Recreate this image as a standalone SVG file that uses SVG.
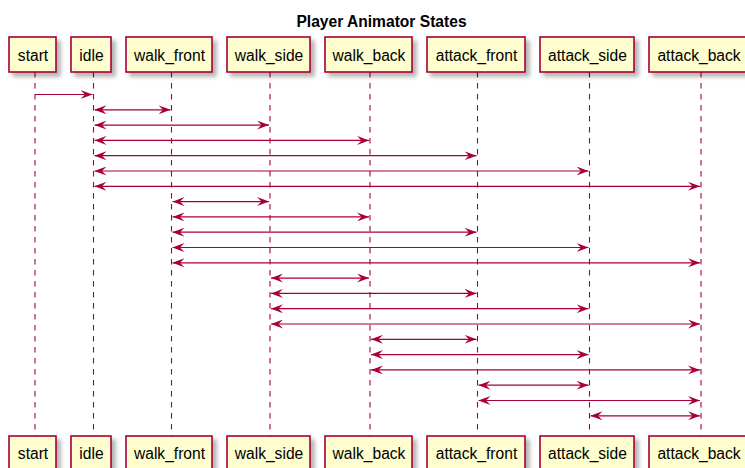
<svg xmlns="http://www.w3.org/2000/svg" width="745" height="468" viewBox="0 0 745 468">
<defs>
<filter id="sh" x="-20%" y="-20%" width="150%" height="160%">
<feGaussianBlur in="SourceAlpha" stdDeviation="2"/>
<feOffset dx="4" dy="4" result="b"/>
<feComponentTransfer><feFuncA type="linear" slope="0.3"/></feComponentTransfer>
<feMerge><feMergeNode/><feMergeNode in="SourceGraphic"/></feMerge>
</filter>
<marker id="ah" viewBox="0 0 12 9" refX="12" refY="4.5" markerWidth="12" markerHeight="9" markerUnits="userSpaceOnUse" orient="auto-start-reverse">
<polygon points="0,0 12,4.5 0,9 4.5,4.5" fill="#A80036"/>
</marker>
</defs>
<style>
.box{fill:#FEFECE;stroke:#A80036;stroke-width:1.6;filter:url(#sh)}
.lbl{font-family:"Liberation Sans",Arial,sans-serif;font-size:15.6px;fill:#000;text-anchor:middle}
.life{stroke:#A80036;stroke-width:1.1;stroke-dasharray:5.5,5.5;fill:none}
.msg{stroke:#A80036;stroke-width:1.2;fill:none}
.one{marker-end:url(#ah)}
.two{marker-start:url(#ah);marker-end:url(#ah)}
.title{font-family:"Liberation Sans",Arial,sans-serif;font-size:15.6px;font-weight:bold;text-anchor:middle;fill:#000}
</style>
<rect width="745" height="468" fill="#FFFFFF"/>
<text class="title" x="381.5" y="26.5">Player Animator States</text>
<g id="lifelines">
<line class="life" x1="35" y1="72" x2="35" y2="436"/>
<line class="life" x1="93.5" y1="72" x2="93.5" y2="436"/>
<line class="life" x1="171.5" y1="72" x2="171.5" y2="436"/>
<line class="life" x1="270" y1="72" x2="270" y2="436"/>
<line class="life" x1="370" y1="72" x2="370" y2="436"/>
<line class="life" x1="477.5" y1="72" x2="477.5" y2="436"/>
<line class="life" x1="589.5" y1="72" x2="589.5" y2="436"/>
<line class="life" x1="701" y1="72" x2="701" y2="436"/>
</g>
<g id="start">
<rect class="box" x="9" y="37" width="47" height="35"/><text class="lbl" x="33" y="61">start</text>
<rect class="box" x="9" y="436" width="47" height="35"/><text class="lbl" x="33" y="459">start</text>
</g>
<g id="idle">
<rect class="box" x="71" y="37" width="40" height="35"/><text class="lbl" x="91.5" y="61">idle</text>
<rect class="box" x="71" y="436" width="40" height="35"/><text class="lbl" x="91.5" y="459">idle</text>
</g>
<g id="walk_front">
<rect class="box" x="126" y="37" width="86" height="35"/><text class="lbl" x="169.5" y="61">walk_front</text>
<rect class="box" x="126" y="436" width="86" height="35"/><text class="lbl" x="169.5" y="459">walk_front</text>
</g>
<g id="walk_side">
<rect class="box" x="227" y="37" width="83" height="35"/><text class="lbl" x="269" y="61">walk_side</text>
<rect class="box" x="227" y="436" width="83" height="35"/><text class="lbl" x="269" y="459">walk_side</text>
</g>
<g id="walk_back">
<rect class="box" x="325" y="37" width="87" height="35"/><text class="lbl" x="369" y="61">walk_back</text>
<rect class="box" x="325" y="436" width="87" height="35"/><text class="lbl" x="369" y="459">walk_back</text>
</g>
<g id="attack_front">
<rect class="box" x="427" y="37" width="98" height="35"/><text class="lbl" x="476.5" y="61">attack_front</text>
<rect class="box" x="427" y="436" width="98" height="35"/><text class="lbl" x="476.5" y="459">attack_front</text>
</g>
<g id="attack_side">
<rect class="box" x="540" y="37" width="94" height="35"/><text class="lbl" x="587.5" y="61">attack_side</text>
<rect class="box" x="540" y="436" width="94" height="35"/><text class="lbl" x="587.5" y="459">attack_side</text>
</g>
<g id="attack_back">
<rect class="box" x="649" y="37" width="104" height="35"/><text class="lbl" x="699" y="61">attack_back</text>
<rect class="box" x="649" y="436" width="104" height="35"/><text class="lbl" x="699" y="459">attack_back</text>
</g>
<g id="connectors">
<line class="msg one" x1="35" y1="94.5" x2="92.5" y2="94.5"/>
<line class="msg two" x1="94.5" y1="109.8" x2="170.5" y2="109.8"/>
<line class="msg two" x1="94.5" y1="125.1" x2="269" y2="125.1"/>
<line class="msg two" x1="94.5" y1="140.4" x2="369" y2="140.4"/>
<line class="msg two" x1="94.5" y1="155.7" x2="476.5" y2="155.7"/>
<line class="msg two" x1="94.5" y1="171" x2="588.5" y2="171"/>
<line class="msg two" x1="94.5" y1="186.3" x2="700" y2="186.3"/>
<line class="msg two" x1="172.5" y1="201.6" x2="269" y2="201.6"/>
<line class="msg two" x1="172.5" y1="216.9" x2="369" y2="216.9"/>
<line class="msg two" x1="172.5" y1="232.2" x2="476.5" y2="232.2"/>
<line class="msg two" x1="172.5" y1="247.5" x2="588.5" y2="247.5"/>
<line class="msg two" x1="172.5" y1="262.8" x2="700" y2="262.8"/>
<line class="msg two" x1="271" y1="278.1" x2="369" y2="278.1"/>
<line class="msg two" x1="271" y1="293.4" x2="476.5" y2="293.4"/>
<line class="msg two" x1="271" y1="308.7" x2="588.5" y2="308.7"/>
<line class="msg two" x1="271" y1="324" x2="700" y2="324"/>
<line class="msg two" x1="371" y1="339.3" x2="476.5" y2="339.3"/>
<line class="msg two" x1="371" y1="354.6" x2="588.5" y2="354.6"/>
<line class="msg two" x1="371" y1="369.9" x2="700" y2="369.9"/>
<line class="msg two" x1="478.5" y1="385.2" x2="588.5" y2="385.2"/>
<line class="msg two" x1="478.5" y1="400.5" x2="700" y2="400.5"/>
<line class="msg two" x1="590.5" y1="415.8" x2="700" y2="415.8"/>
</g>
</svg>
